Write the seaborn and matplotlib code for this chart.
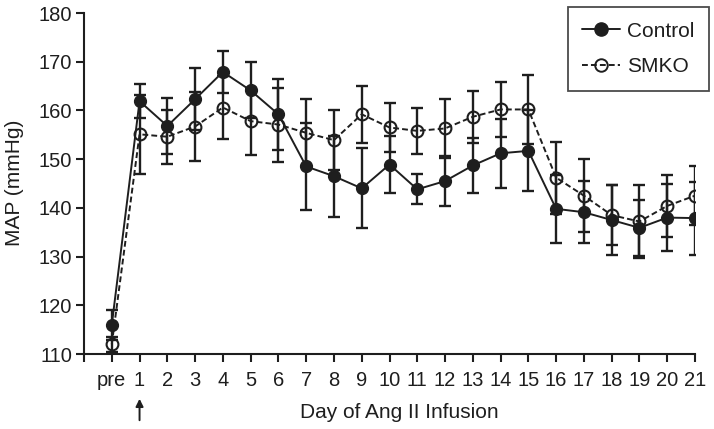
import matplotlib
matplotlib.use("Agg")
import matplotlib.pyplot as plt
from matplotlib.lines import Line2D
import seaborn as sns
import pandas as pd
import numpy as np

days = ["pre"] + [str(i) for i in range(1, 22)]
control_mean = [116.0, 161.9, 156.8, 162.3, 167.9, 164.1, 159.2, 148.5, 146.5, 144.0, 148.9,
                143.8, 145.5, 148.7, 151.2, 151.7, 139.8, 139.1, 137.5, 135.9, 138.0, 137.9]
control_sem = [3.1, 3.5, 5.7, 6.4, 4.4, 5.75, 7.25, 9.0, 8.35, 8.2, 5.8,
               3.1, 5.2, 5.6, 7.1, 8.3, 7.0, 6.4, 7.2, 5.8, 6.8, 7.5]
smko_mean = [112.0, 155.1, 154.6, 156.7, 160.6, 157.8, 157.1, 155.4, 153.9, 159.2, 156.5,
             155.8, 156.3, 158.7, 160.2, 160.2, 146.2, 142.5, 138.5, 137.2, 140.4, 142.5]
smko_sem = [1.5, 8.15, 5.5, 7.0, 6.5, 6.9, 7.6, 6.9, 6.2, 5.8, 5.1,
            4.8, 6.0, 5.3, 5.6, 7.0, 7.4, 7.5, 6.2, 7.5, 6.4, 6.0]
groups = ["Control", "SMKO"]

pos = np.arange(len(days))
df = pd.DataFrame({
    "pos": np.concatenate([pos, pos]),
    "MAP": control_mean + smko_mean,
    "sem": control_sem + smko_sem,
    "group": ["Control"] * len(days) + ["SMKO"] * len(days),
})

sns.set_theme(style="ticks")
plt.rcParams["font.family"] = ["Liberation Sans", "DejaVu Sans"]
INK = "#1e1e1e"

fig = plt.figure(figsize=(7.14, 4.29), dpi=100)
ax = fig.add_axes([84 / 714, 1 - 354 / 429, (695 - 84) / 714, (354 - 13) / 429])

# error bars (mean +/- SEM)
for g in groups:
    d = df[df.group == g]
    ax.errorbar(d["pos"], d["MAP"], yerr=d["sem"], fmt="none", ecolor=INK,
                elinewidth=1.7, capsize=4.3, capthick=1.7, zorder=2)

sns.lineplot(data=df, x="pos", y="MAP", hue="group", style="group",
             palette={"Control": INK, "SMKO": INK},
             dashes={"Control": "", "SMKO": (3, 1.6)},
             markers=False, linewidth=1.4, legend=False, ax=ax, zorder=3)

dc = df[df.group == "Control"]
ds = df[df.group == "SMKO"]
ax.plot(dc["pos"], dc["MAP"], ls="none", marker="o", ms=8.5, mfc=INK, mec=INK, zorder=4)
ax.plot(ds["pos"], ds["MAP"], ls="none", marker="o", ms=8.5, mfc="none", mec=INK, mew=1.5, zorder=4)

ax.set_xlim(-1, 21)
ax.set_ylim(110, 180)
ax.set_xticks(np.arange(-1, 22))
ax.set_xticklabels([""] + days)
ax.set_yticks(np.arange(110, 181, 10))
ax.set_xlabel("")
ax.set_ylabel("")
for s in ["top", "right"]:
    ax.spines[s].set_visible(False)
for s in ["left", "bottom"]:
    ax.spines[s].set_color(INK)
    ax.spines[s].set_linewidth(1.5)
ax.tick_params(axis="both", direction="out", length=5.5, width=1.5, color=INK,
               labelsize=14.5, labelcolor=INK)
ax.tick_params(axis="x", pad=6.5)
ax.tick_params(axis="y", pad=3)

fig.text(15 / 714, 1 - 183 / 429, "MAP (mmHg)", rotation=90, ha="center", va="center",
         fontsize=15, color=INK)
fig.text(399 / 714, 1 - 413 / 429, "Day of Ang II Infusion", ha="center", va="center",
         fontsize=15, color=INK)

ax.annotate("", xy=(1, (354 - 396) / 341), xytext=(1, (354 - 423) / 341),
            xycoords=ax.get_xaxis_transform(), annotation_clip=False,
            arrowprops=dict(arrowstyle="-|>", color=INK, lw=1.4, mutation_scale=11))

handles = [
    Line2D([], [], color=INK, ls="-", lw=1.4, marker="o", ms=9.5, mfc=INK, mec=INK),
    Line2D([], [], color=INK, ls=(0, (3, 1.6)), lw=1.4, marker="o", ms=9, mfc="none", mec=INK, mew=1.4),
]
leg = fig.legend(handles, groups, loc="upper right", bbox_to_anchor=(709 / 714, 1 - 7 / 429),
                 frameon=True, fancybox=False, fontsize=15, handlelength=1.8,
                 borderpad=0.7, labelspacing=0.8, handletextpad=0.35, borderaxespad=0)
leg.get_frame().set_edgecolor(INK)
leg.get_frame().set_linewidth(1.3)
for t in leg.get_texts():
    t.set_color(INK)

fig.savefig("out.png", dpi=100)
